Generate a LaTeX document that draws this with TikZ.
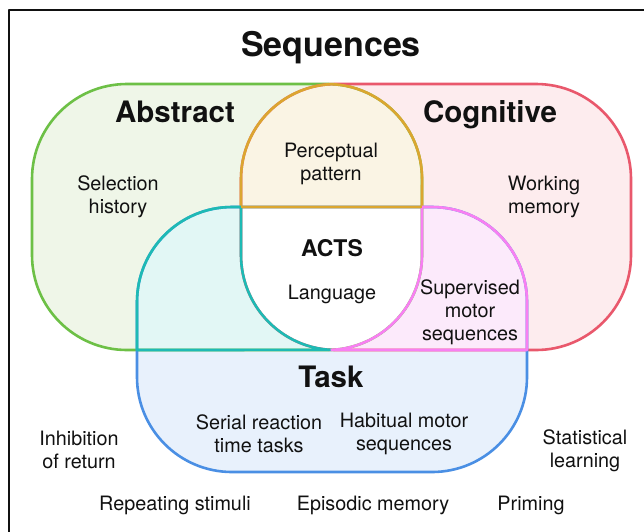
\documentclass[tikz,border=0pt]{standalone}
\usepackage{fontspec}
\setmainfont{TeX Gyre Heros}
\definecolor{gA}{HTML}{6DC046}
\definecolor{gAf}{HTML}{EFF6E8}
\definecolor{rC}{HTML}{E9586C}
\definecolor{rCf}{HTML}{FDECEE}
\definecolor{bT}{HTML}{4A8FE4}
\definecolor{bTf}{HTML}{E8F1FC}
\definecolor{yAC}{HTML}{DBA630}
\definecolor{yACf}{HTML}{FAF4E4}
\definecolor{tAT}{HTML}{1EBAB4}
\definecolor{tATf}{HTML}{E2F7F5}
\definecolor{mCT}{HTML}{F87FF2}
\definecolor{mCTf}{HTML}{FCEAFB}
\definecolor{ink}{HTML}{111111}
\tikzset{
  body/.style={font=\fontsize{19.8}{23}\selectfont, align=center, text=ink, inner sep=0pt},
  hdr/.style={font=\fontsize{29.5}{32}\selectfont\bfseries, text=ink, inner sep=0pt, anchor=base},
  setline/.style={line width=2.6pt},
}
\begin{document}
\begin{tikzpicture}[x=1pt,y=1pt,line join=round]
\useasboundingbox (0,0) rectangle (644,-531);
\clip (0,0) rectangle (644,-531);
\fill[white] (0,0) rectangle (644,-531);
% base fills
\fill[gAf, rounded corners=95pt] (32,-84) rectangle (422,-350);
\fill[rCf, rounded corners=95pt] (241,-84) rectangle (631,-350);
\fill[bTf, rounded corners=95pt] (137,-207) rectangle (527,-472);
% pairwise fills
\fill[yACf] (241,-207) -- (241,-179) arc[start angle=180,end angle=92.7,radius=95] arc[start angle=87.3,end angle=0,radius=95] -- (422,-207) -- cycle;
\fill[tATf] (137,-350) -- (137,-302) arc[start angle=180,end angle=90,radius=95] -- (241,-207) -- (241,-255) arc[start angle=180,end angle=267.3,radius=95] -- cycle;
\fill[mCTf] (422,-207) -- (422,-255) arc[start angle=0,end angle=-87.3,radius=95] -- (527,-350) -- (527,-302) arc[start angle=0,end angle=90,radius=95] -- cycle;
\fill[white] (241,-207) -- (422,-207) -- (422,-255) arc[start angle=0,end angle=-87.3,radius=95] arc[start angle=-92.7,end angle=-180,radius=95] -- cycle;
% outlines
\draw[setline, gA, rounded corners=95pt] (32,-84) rectangle (422,-350);
\draw[setline, rC, rounded corners=95pt] (241,-84) rectangle (631,-350);
\draw[setline, bT, rounded corners=95pt] (137,-207) rectangle (527,-472);
\draw[setline, yAC] (241,-207) -- (241,-179) arc[start angle=180,end angle=92.7,radius=95] arc[start angle=87.3,end angle=0,radius=95] -- (422,-207) -- cycle;
\draw[setline, tAT] (137,-350) -- (137,-302) arc[start angle=180,end angle=90,radius=95] -- (241,-207) -- (241,-255) arc[start angle=180,end angle=267.3,radius=95] -- cycle;
\draw[setline, mCT] (422,-207) -- (422,-255) arc[start angle=0,end angle=-87.3,radius=95] -- (527,-350) -- (527,-302) arc[start angle=0,end angle=90,radius=95] -- cycle;
\draw[setline, yAC] (241,-207) -- (422,-207);
% frame
\draw[line width=2pt, ink] (9,-10) rectangle (700,-600);
% texts
\node[hdr, font=\fontsize{34}{36}\selectfont\bfseries] (title) at (331,-56) {Sequences};
\node[hdr] (abs) at (175,-122.5) {Abstract};
\node[hdr] (cog) at (490,-122.5) {Cognitive};
\node[hdr] (task) at (331,-387.5) {Task};
\node[hdr, font=\fontsize{23}{26}\selectfont\bfseries] (acts) at (332,-256.5) {ACTS};
\node[body] (perc) at (331,-164) {Perceptual\\pattern};
\node[body] (sel) at (118,-197) {Selection\\history};
\node[body] (work) at (544,-197) {Working\\memory};
\node[body] (lang) at (332,-294) {Language};
\node[body] (sup) at (470,-312) {Supervised\\motor\\sequences};
\node[body] (srt) at (259,-434) {Serial reaction\\time tasks};
\node[body] (hab) at (404,-434) {Habitual motor\\sequences};
\node[body] (inh) at (79,-450) {Inhibition\\of return};
\node[body] (stat) at (585,-451) {Statistical\\learning};
\node[body] (rep) at (175,-505) {Repeating stimuli};
\node[body] (epi) at (373,-505) {Episodic memory};
\node[body] (prim) at (531,-505) {Priming};
\end{tikzpicture}
\end{document}
